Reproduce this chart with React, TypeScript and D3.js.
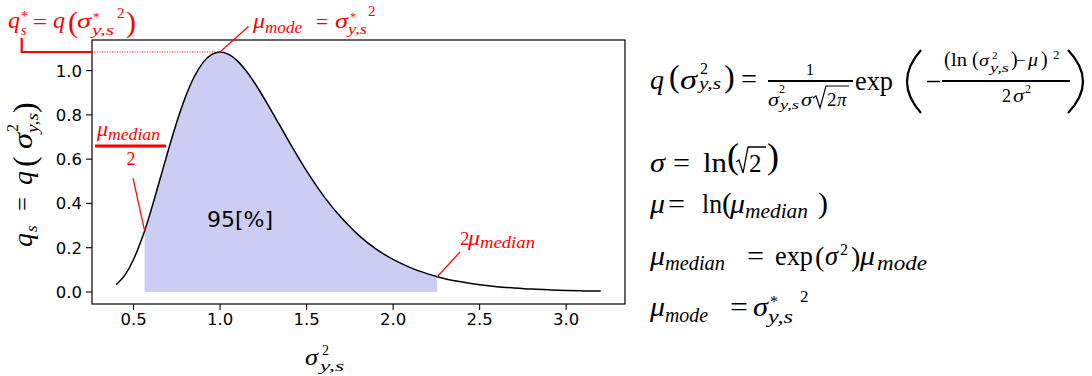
import * as d3 from "d3";

// values (log-normal density, mode = 1)
const sigma2 = [0.4, 0.45, 0.5, 0.55, 0.564, 0.6, 0.65, 0.7, 0.75, 0.8, 0.85, 0.9, 0.95, 1.0, 1.05, 1.1, 1.15, 1.2, 1.3, 1.4, 1.5, 1.6, 1.7, 1.8, 1.9, 2.0, 2.1, 2.2, 2.255, 2.3, 2.4, 2.5, 2.6, 2.7, 2.8, 2.9, 3.0, 3.1, 3.2];
const qValues = [0.033, 0.076, 0.147, 0.245, 0.276, 0.366, 0.501, 0.638, 0.768, 0.881, 0.971, 1.035, 1.072, 1.084, 1.073, 1.044, 0.999, 0.944, 0.814, 0.677, 0.547, 0.432, 0.336, 0.257, 0.195, 0.147, 0.11, 0.082, 0.069, 0.06, 0.045, 0.033, 0.024, 0.018, 0.013, 0.01, 0.007, 0.005, 0.004];
const shadeFrom = 0.564; // mu_median / 2
const shadeTo = 2.255; // 2 mu_median
const xTicks = [0.5, 1.0, 1.5, 2.0, 2.5, 3.0];
const yTicks = [0.0, 0.2, 0.4, 0.6, 0.8, 1.0];
const areaLabel = "95[%]";

const W = 1092;
const H = 376;
const plot = { left: 92, right: 625, top: 40, bottom: 304 };
const SERIF = "'Liberation Serif', 'DejaVu Serif', serif";
const SANS = "'DejaVu Sans', sans-serif";
const RED = "#ff0000";

type TProps = {
  x: number; y: number; t: string; fs: number; it?: boolean;
  fill?: string; w?: number; anchor?: string; family?: string;
};

// one math glyph run, placed by hand like the typeset formula
function T({ x, y, t, fs, it = false, fill = "black", w, anchor = "start", family = SERIF }: TProps) {
  return (
    <text
      x={x}
      y={y}
      fontSize={fs}
      fontStyle={it ? "italic" : "normal"}
      fill={fill}
      textAnchor={anchor}
      fontFamily={family}
      textLength={w}
      lengthAdjust={w ? "spacingAndGlyphs" : undefined}
    >
      {t}
    </text>
  );
}

export default function App() {
  const data = sigma2.map((x, i) => ({ x, y: qValues[i] }));

  const [xMin, xMax] = d3.extent(sigma2) as [number, number];
  const xPad = (xMax - xMin) * 0.05;
  const yMax = d3.max(qValues) as number;
  const yPad = yMax * 0.05;

  const x = d3.scaleLinear().domain([xMin - xPad, xMax + xPad]).range([plot.left, plot.right]);
  const y = d3.scaleLinear().domain([-yPad, yMax + yPad]).range([plot.bottom, plot.top]);

  const line = d3.line<{ x: number; y: number }>()
    .x(d => x(d.x))
    .y(d => y(d.y))
    .curve(d3.curveMonotoneX);

  const area = d3.area<{ x: number; y: number }>()
    .x(d => x(d.x))
    .y0(y(0))
    .y1(d => y(d.y))
    .curve(d3.curveMonotoneX);

  const shaded = data.filter(d => d.x >= shadeFrom && d.x <= shadeTo);
  const peak = d3.greatest(data, d => d.y)!;
  const lo = data.find(d => d.x === shadeFrom)!;
  const hi = data.find(d => d.x === shadeTo)!;

  return (
    <svg width={W} height={H} style={{ position: "fixed", left: 0, top: 0, background: "white" }}>
      {/* shaded 95% band and density curve */}
      <path d={area(shaded) ?? ""} fill="#cbcdf3" />
      <path d={line(data) ?? ""} fill="none" stroke="black" strokeWidth={1.5} />

      {/* frame */}
      <rect x={plot.left} y={plot.top} width={plot.right - plot.left} height={plot.bottom - plot.top}
        fill="none" stroke="black" strokeWidth={1.2} />

      {/* x axis */}
      {xTicks.map(t => (
        <g key={"x" + t}>
          <line x1={x(t)} x2={x(t)} y1={plot.bottom} y2={plot.bottom + 6} stroke="black" strokeWidth={1.1} />
          <text x={x(t)} y={plot.bottom + 21} textAnchor="middle" fontFamily={SANS} fontSize={16.5}>
            {d3.format(".1f")(t)}
          </text>
        </g>
      ))}
      {/* y axis */}
      {yTicks.map(t => (
        <g key={"y" + t}>
          <line x1={plot.left - 6} x2={plot.left} y1={y(t)} y2={y(t)} stroke="black" strokeWidth={1.1} />
          <text x={plot.left - 10} y={y(t)} dy="0.36em" textAnchor="end" fontFamily={SANS} fontSize={16.5}>
            {d3.format(".1f")(t)}
          </text>
        </g>
      ))}

      {/* x label */}
      <T x={305} y={365} t="σ" fs={23} it w={13} />
      <T x={322} y={355} t="2" fs={14} />
      <T x={320} y={371} t="y,s" fs={15} it w={24} />

      {/* y label, rotated */}
      <g transform="translate(32,175) rotate(-90)">
        <T x={-72} y={0} t="q" fs={28} it />
        <T x={-57} y={5} t="s" fs={17} it />
        <T x={-36} y={-1} t="=" fs={26} w={14} />
        <T x={-10} y={0} t="q" fs={28} it />
        <T x={8} y={3} t="(" fs={32} />
        <T x={26} y={0} t="σ" fs={27} it w={16} />
        <T x={43} y={-14} t="2" fs={16} />
        <T x={42} y={6} t="y,s" fs={16} it w={20} />
        <T x={62} y={3} t=")" fs={32} />
      </g>

      {/* area label */}
      <text x={207} y={227} fontFamily={SANS} fontSize={22}>{areaLabel}</text>

      {/* red annotation: peak value */}
      <path d={`M21.7,38 V${y(peak.y)} H${plot.left}`} fill="none" stroke={RED} strokeWidth={2.2} />
      <line x1={plot.left} x2={x(peak.x)} y1={y(peak.y)} y2={y(peak.y)} stroke={RED} strokeWidth={1} strokeDasharray="1,1.5" />
      <T x={8} y={28} t="q" fs={24} it fill={RED} />
      <T x={21} y={21} t="*" fs={14} fill={RED} />
      <T x={21} y={35} t="s" fs={14} it fill={RED} />
      <T x={33} y={29} t="=" fs={22} w={14} fill={RED} />
      <T x={53} y={28} t="q" fs={24} it fill={RED} />
      <T x={68} y={32} t="(" fs={30} fill={RED} />
      <T x={77} y={28} t="σ" fs={22} it w={14} fill={RED} />
      <T x={93} y={21} t="*" fs={13} fill={RED} />
      <T x={92} y={35} t="y,s" fs={14} it w={22} fill={RED} />
      <T x={117} y={18} t="2" fs={15} fill={RED} />
      <T x={126} y={32} t=")" fs={30} fill={RED} />

      {/* red annotation: mode */}
      <line x1={x(peak.x)} y1={y(peak.y)} x2={248.5} y2={26.5} stroke={RED} strokeWidth={1.2} />
      <T x={253} y={28} t="μ" fs={22} it w={12} fill={RED} />
      <T x={265} y={33} t="mode" fs={16} it w={37} fill={RED} />
      <T x={316} y={29} t="=" fs={22} w={12} fill={RED} />
      <T x={335} y={28} t="σ" fs={22} it w={13} fill={RED} />
      <T x={350} y={21} t="*" fs={12} fill={RED} />
      <T x={348} y={34} t="y,s" fs={14} it w={19} fill={RED} />
      <T x={368} y={16} t="2" fs={15} fill={RED} />

      {/* red annotation: median / 2 */}
      <T x={97} y={136} t="μ" fs={22} it w={11} fill={RED} />
      <T x={108} y={140} t="median" fs={17} it w={52} fill={RED} />
      <line x1={95} x2={166} y1={146} y2={146} stroke={RED} strokeWidth={3} />
      <T x={131} y={165} t="2" fs={18} anchor="middle" fill={RED} />
      <line x1={133} y1={178} x2={x(lo.x)} y2={y(lo.y)} stroke={RED} strokeWidth={1.2} />

      {/* red annotation: 2 median */}
      <T x={460} y={245} t="2" fs={19} fill={RED} />
      <T x={468} y={245} t="μ" fs={21} it w={12} fill={RED} />
      <T x={480} y={248} t="median" fs={16} it w={55} fill={RED} />
      <line x1={460} y1={252} x2={x(hi.x)} y2={y(hi.y)} stroke={RED} strokeWidth={1.2} />

      {/* formula 1 */}
      <T x={650} y={89} t="q" fs={28} it />
      <T x={669} y={87} t="(" fs={32} />
      <T x={680} y={89} t="σ" fs={27} it w={17} />
      <T x={700} y={74} t="2" fs={16} />
      <T x={699} y={89} t="y,s" fs={17} it w={22} />
      <T x={724} y={87} t=")" fs={32} />
      <T x={741} y={88} t="=" fs={27} w={16} />
      <line x1={768} x2={853} y1={81} y2={81} stroke="black" strokeWidth={1.8} />
      <T x={810} y={75} t="1" fs={16} anchor="middle" />
      <T x={768} y={106} t="σ" fs={19} it w={11} />
      <T x={779} y={93} t="2" fs={12} />
      <T x={780} y={109} t="y,s" fs={13} it w={19} />
      <T x={801} y={106} t="σ" fs={19} it w={11} />
      <path d="M813,98 L816,96 L820,108 L826,86 H849" fill="none" stroke="black" strokeWidth={1.2} />
      <T x={827} y={106} t="2" fs={19} />
      <T x={837} y={106} t="π" fs={19} it />
      <T x={855} y={90} t="exp" fs={27} w={38} />
      <path d="M921,50 Q893,81.5 921,113" fill="none" stroke="black" strokeWidth={2.2} />
      <line x1={927} x2={940} y1={81.5} y2={81.5} stroke="black" strokeWidth={1.5} />
      <line x1={942} x2={1070} y1={81} y2={81} stroke="black" strokeWidth={1.8} />
      <T x={944} y={66} t="(" fs={20} />
      <T x={951} y={66} t="ln" fs={19} w={16} />
      <T x={972} y={66} t="(" fs={20} />
      <T x={979} y={66} t="σ" fs={17} it w={10} />
      <T x={992} y={59} t="2" fs={11} />
      <T x={990} y={72} t="y,s" fs={12} it w={19} />
      <T x={1011} y={66} t=")" fs={20} />
      <T x={1016} y={66} t="−" fs={17} />
      <T x={1028} y={66} t="μ" fs={19} it w={10} />
      <T x={1041} y={66} t=")" fs={20} />
      <T x={1053} y={59} t="2" fs={13} />
      <T x={1002} y={102} t="2" fs={18} />
      <T x={1013} y={102} t="σ" fs={18} it w={11} />
      <T x={1025} y={93} t="2" fs={12} />
      <path d="M1068,50 Q1098,81.5 1068,113" fill="none" stroke="black" strokeWidth={2.2} />

      {/* formula 2 */}
      <T x={650} y={172} t="σ" fs={27} it w={15} />
      <T x={673} y={172} t="=" fs={27} w={17} />
      <T x={703} y={172} t="ln" fs={27} w={24} />
      <T x={727} y={168} t="(" fs={36} />
      <path d="M736,162 L739,160 L743,173 L748,147 H766" fill="none" stroke="black" strokeWidth={1.3} />
      <T x={749} y={172} t="2" fs={25} />
      <T x={767} y={168} t=")" fs={36} />

      {/* formula 3 */}
      <T x={650} y={213} t="μ" fs={27} it w={15} />
      <T x={668} y={213} t="=" fs={27} w={17} />
      <T x={702} y={213} t="ln" fs={27} w={20} />
      <T x={722} y={213} t="(" fs={30} />
      <T x={730} y={213} t="μ" fs={27} it w={15} />
      <T x={745} y={218} t="median" fs={20} it w={63} />
      <T x={818} y={213} t=")" fs={30} />

      {/* formula 4 */}
      <T x={650} y={265} t="μ" fs={27} it w={15} />
      <T x={665} y={270} t="median" fs={20} it w={60} />
      <T x={747} y={265} t="=" fs={27} w={17} />
      <T x={775} y={265} t="exp" fs={27} w={38} />
      <T x={815} y={266} t="(" fs={28} />
      <T x={825} y={265} t="σ" fs={27} it w={13} />
      <T x={840} y={255} t="2" fs={16} />
      <T x={851} y={266} t=")" fs={28} />
      <T x={860} y={265} t="μ" fs={27} it w={15} />
      <T x={877} y={270} t="mode" fs={20} it w={50} />

      {/* formula 5 */}
      <T x={650} y={316} t="μ" fs={27} it w={15} />
      <T x={665} y={322} t="mode" fs={20} it w={43} />
      <T x={730} y={316} t="=" fs={27} w={18} />
      <T x={753} y={316} t="σ" fs={27} it w={15} />
      <T x={770} y={307} t="*" fs={16} />
      <T x={768} y={323} t="y,s" fs={18} it w={25} />
      <T x={800} y={302} t="2" fs={17} />
    </svg>
  );
}
